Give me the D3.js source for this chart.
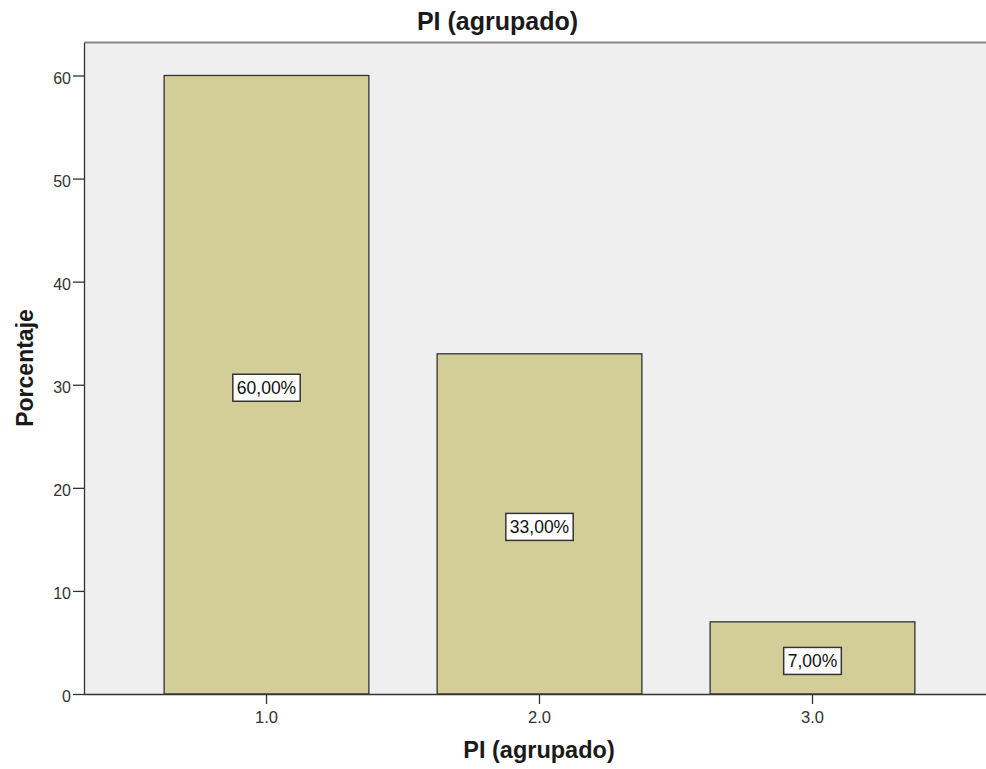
<!DOCTYPE html>
<html><head><meta charset="utf-8">
<script src="https://cdn.jsdelivr.net/npm/d3@7"></script>
<style>body{margin:0;background:#fff}svg{display:block}</style>
</head><body>
<script>
const categories = ["1.0", "2.0", "3.0"];
const values = [60, 33, 7];
const valueLabels = ["60,00%", "33,00%", "7,00%"];
const yTicks = [0, 10, 20, 30, 40, 50, 60];

const W = 986, H = 769;
const pLeft = 84, pRight = 986, pTop = 42.5, pBottom = 694;
const FONT = "Arial, 'Liberation Sans', sans-serif";
const svg = d3.select("body").append("svg").attr("width", W).attr("height", H);

const x = d3.scaleBand().domain(categories).range([130, 949]).paddingInner(0.25).paddingOuter(0.125);
const y = d3.scaleLinear().domain([0, 63.2]).range([pBottom, pTop]);

svg.append("rect").attr("x", pLeft).attr("y", pTop).attr("width", pRight - pLeft).attr("height", pBottom - pTop).attr("fill", "#efefef");
svg.append("line").attr("x1", pLeft).attr("x2", pRight).attr("y1", pTop).attr("y2", pTop).attr("stroke", "#888").attr("stroke-width", 2);

svg.selectAll(".bar").data(values).join("rect")
  .attr("x", (d, i) => x(categories[i]))
  .attr("y", d => y(d))
  .attr("width", x.bandwidth())
  .attr("height", d => y(0) - y(d))
  .attr("fill", "#d3ce97").attr("stroke", "#333").attr("stroke-width", 1.3);

const yAxis = svg.append("g").attr("transform", `translate(${pLeft},0)`)
  .call(d3.axisLeft(y).tickValues(yTicks).tickSize(11).tickSizeOuter(0).tickPadding(2).tickFormat(d3.format("d")));
yAxis.select(".domain").attr("stroke", "#333").attr("stroke-width", 1.3);
yAxis.selectAll("line").attr("stroke", "#333").attr("stroke-width", 1.3);
yAxis.selectAll("text").attr("font-family", FONT).attr("font-size", 16).attr("fill", "#333").attr("dy", "0.48em");

const xAxis = svg.append("g").attr("transform", `translate(0,${pBottom})`)
  .call(d3.axisBottom(x).tickSize(10).tickSizeOuter(0).tickPadding(7));
xAxis.select(".domain").attr("d", `M${pLeft},0.5H${pRight}`).attr("stroke", "#333").attr("stroke-width", 1.3);
xAxis.selectAll("line").attr("stroke", "#333").attr("stroke-width", 1.3);
xAxis.selectAll("text").attr("font-family", FONT).attr("font-size", 16.5).attr("fill", "#333");

// value labels
const lg = svg.selectAll(".lbl").data(values).join("g")
  .attr("transform", (d, i) => `translate(${x(categories[i]) + x.bandwidth() / 2},${(y(d) + y(0)) / 2 + 3})`);
lg.each(function (d, i) {
  const g = d3.select(this);
  const t = g.append("text").text(valueLabels[i]).attr("text-anchor", "middle").attr("dy", "0.36em")
    .attr("font-family", FONT).attr("font-size", 17.5).attr("fill", "#111");
  const w = t.node().getComputedTextLength();
  g.insert("rect", "text").attr("x", -w / 2 - 4).attr("y", -13.5).attr("width", w + 8).attr("height", 27)
    .attr("fill", "#fff").attr("stroke", "#333").attr("stroke-width", 1.5);
});

svg.append("text").text("PI (agrupado)").attr("x", 497.5).attr("y", 29.5).attr("text-anchor", "middle")
  .attr("font-family", FONT).attr("font-weight", "bold").attr("font-size", 25).attr("fill", "#1a1a1a");
svg.append("text").text("PI (agrupado)").attr("x", 539).attr("y", 758).attr("text-anchor", "middle")
  .attr("font-family", FONT).attr("font-weight", "bold").attr("font-size", 23.5).attr("fill", "#1a1a1a");
svg.append("text").text("Porcentaje").attr("transform", "translate(33,368) rotate(-90)").attr("text-anchor", "middle")
  .attr("font-family", FONT).attr("font-weight", "bold").attr("font-size", 23).attr("fill", "#1a1a1a");
</script>
</body></html>
